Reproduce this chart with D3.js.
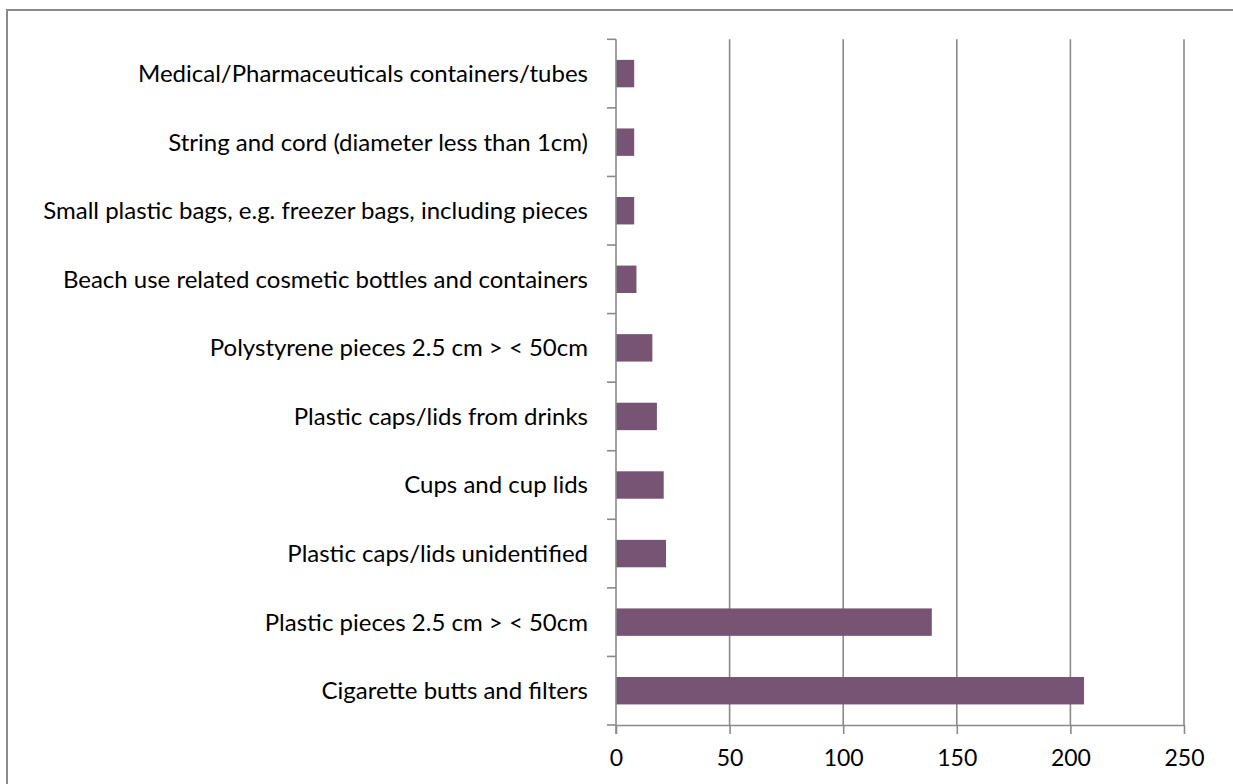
<!DOCTYPE html>
<html>
<head>
<meta charset="utf-8">
<script src="https://cdn.jsdelivr.net/npm/d3@7"></script>
<style>
  html, body { margin: 0; padding: 0; background: #fff; }
  svg { display: block; }
</style>
</head>
<body>
<svg id="chart" width="1233" height="784"></svg>
<script>
// Items found, bottom to top as listed on the chart
const categories = [
  "Cigarette butts and filters",
  "Plastic pieces 2.5 cm > < 50cm",
  "Plastic caps/lids unidentified",
  "Cups and cup lids",
  "Plastic caps/lids from drinks",
  "Polystyrene pieces 2.5 cm > < 50cm",
  "Beach use related cosmetic bottles and containers",
  "Small plastic bags, e.g. freezer bags, including pieces",
  "String and cord (diameter less than 1cm)",
  "Medical/Pharmaceuticals containers/tubes"
];
const counts = [206, 139, 22, 21, 18, 16, 9, 8, 8, 8];
const xTicks = [0, 50, 100, 150, 200, 250];

const svg = d3.select("#chart");
const font = "Lato, 'Open Sans', sans-serif";
const gray = "#8a8a8a";

// Outer frame
svg.append("rect")
  .attr("x", 7).attr("y", 10)
  .attr("width", 1240).attr("height", 790)
  .attr("fill", "none").attr("stroke", gray).attr("stroke-width", 2);

const plotLeft = 616, plotRight = 1184, plotTop = 39.3, plotBottom = 725;

const x = d3.scaleLinear().domain([0, 250]).range([plotLeft, plotRight]);
const y = d3.scaleBand()
  .domain(categories.slice().reverse())
  .range([plotTop, plotBottom])
  .paddingInner(0.6).paddingOuter(0.3);
const band = d3.scaleBand().domain(categories.slice().reverse()).range([plotTop, plotBottom]);

// Vertical gridlines
svg.append("g").selectAll("line")
  .data(xTicks.filter(t => t > 0))
  .join("line")
  .attr("x1", d => x(d)).attr("x2", d => x(d))
  .attr("y1", plotTop).attr("y2", plotBottom)
  .attr("stroke", gray).attr("stroke-width", 1.6);

// Bars
svg.append("g").selectAll("rect")
  .data(categories)
  .join("rect")
  .attr("x", x(0))
  .attr("y", d => y(d))
  .attr("width", (d, i) => x(counts[i]) - x(0))
  .attr("height", y.bandwidth())
  .attr("fill", "#775473");

// Bottom axis
const xAxis = svg.append("g")
  .attr("transform", `translate(0,${plotBottom})`)
  .call(d3.axisBottom(x).tickValues(xTicks).tickSize(9).tickPadding(16).tickSizeOuter(0));
xAxis.select(".domain").attr("stroke", gray).attr("stroke-width", 1.6);
xAxis.selectAll(".tick line").attr("stroke", gray).attr("stroke-width", 1.6);
xAxis.selectAll(".tick text")
  .attr("font-family", font).attr("font-size", 23).attr("fill", "#000");

// Left axis with ticks at band boundaries
const boundaries = d3.range(categories.length + 1).map(i => plotTop + i * band.step());
svg.append("line")
  .attr("x1", plotLeft).attr("x2", plotLeft)
  .attr("y1", plotTop).attr("y2", plotBottom + 9)
  .attr("stroke", gray).attr("stroke-width", 1.6);
svg.append("g").selectAll("line")
  .data(boundaries)
  .join("line")
  .attr("x1", plotLeft - 9).attr("x2", plotLeft)
  .attr("y1", d => d).attr("y2", d => d)
  .attr("stroke", gray).attr("stroke-width", 1.6);

// Category labels
svg.append("g").selectAll("text")
  .data(categories)
  .join("text")
  .attr("x", 588)
  .attr("y", d => band(d) + band.bandwidth() / 2)
  .attr("dy", "0.35em")
  .attr("text-anchor", "end")
  .attr("font-family", font).attr("font-size", 24).attr("fill", "#000")
  .text(d => d);
</script>
</body>
</html>
